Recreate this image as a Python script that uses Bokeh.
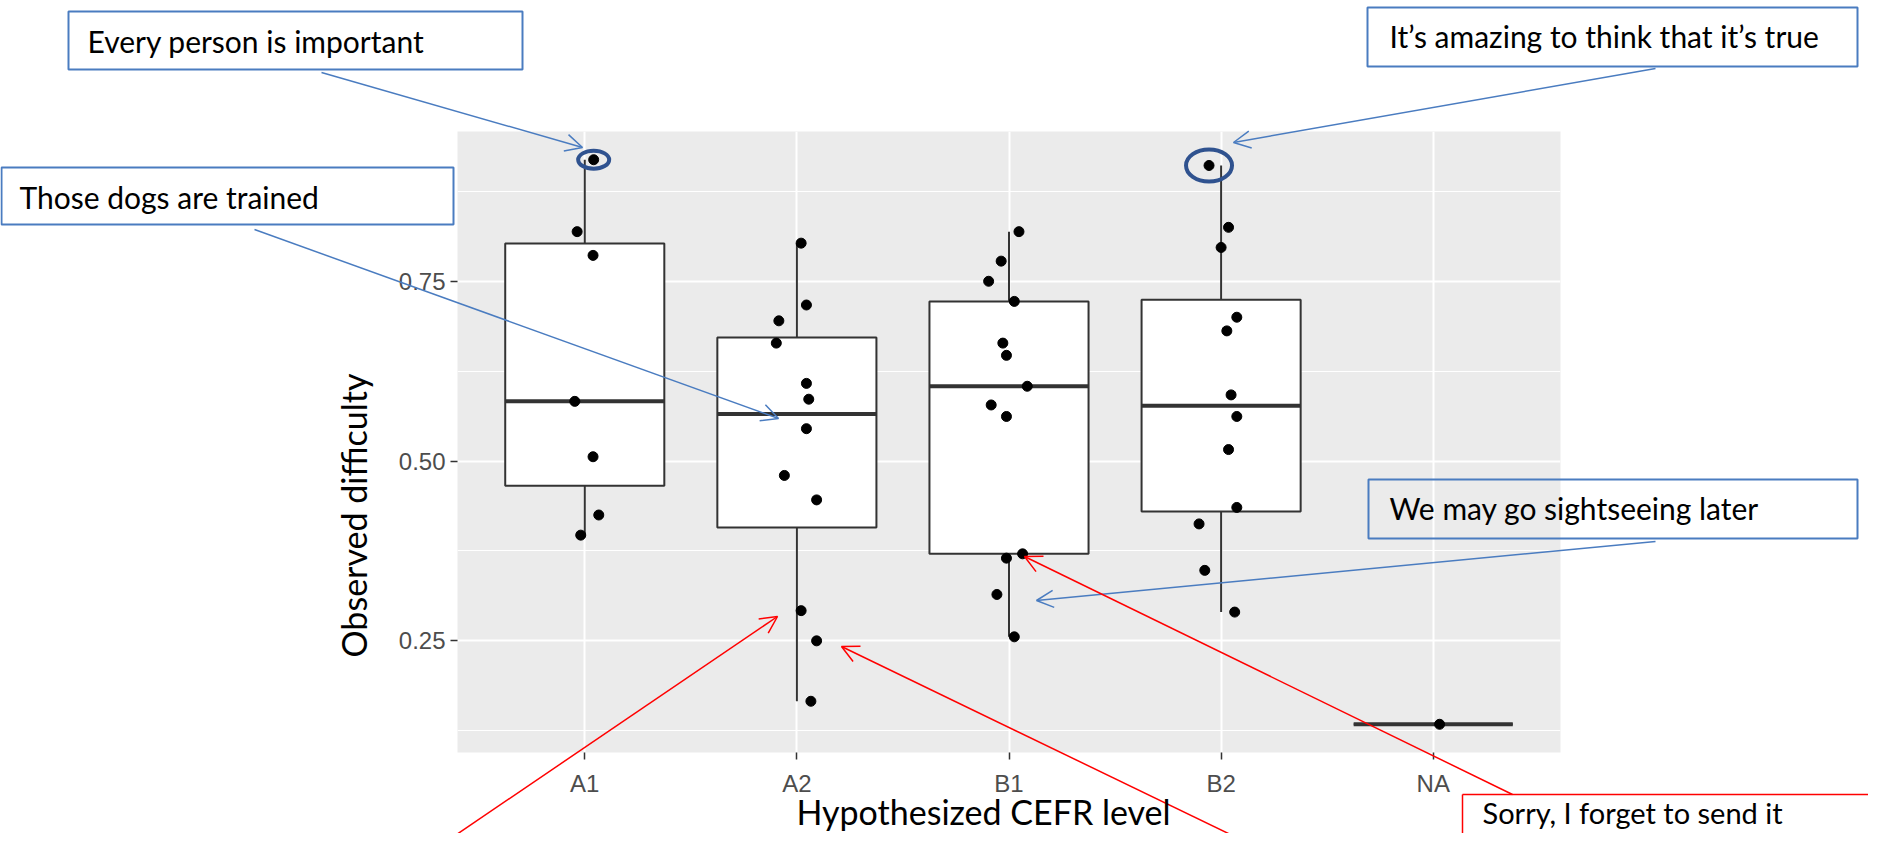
import numpy as np
from bokeh.plotting import figure
from bokeh.models import Range1d, FixedTicker, Label, Arrow, OpenHead, BoxAnnotation, GridBox
from bokeh.embed import file_html
from bokeh.resources import INLINE

# ---------------- data ----------------
categories = ["A1", "A2", "B1", "B2", "NA"]

a1_values = [0.919, 0.819, 0.786, 0.583, 0.506, 0.425, 0.397]
a1_jitter = [0.042, -0.036, 0.039, -0.047, 0.039, 0.066, -0.019]

a2_values = [0.803, 0.717, 0.695, 0.664, 0.608, 0.586, 0.545, 0.480, 0.446, 0.292, 0.250, 0.166]
a2_jitter = [0.020, 0.045, -0.085, -0.097, 0.045, 0.056, 0.045, -0.059, 0.093, 0.020, 0.093, 0.066]

b1_values = [0.819, 0.778, 0.750, 0.722, 0.664, 0.647, 0.604, 0.578, 0.562, 0.371, 0.365, 0.3145, 0.2556]
b1_jitter = [0.047, -0.037, -0.096, 0.025, -0.029, -0.012, 0.086, -0.084, -0.012, 0.064, -0.012, -0.057, 0.025]

b2_values = [0.911, 0.825, 0.797, 0.700, 0.681, 0.592, 0.562, 0.516, 0.4355, 0.4126, 0.348, 0.290]
b2_jitter = [-0.057, 0.035, 0.0, 0.074, 0.027, 0.047, 0.074, 0.035, 0.074, -0.104, -0.077, 0.064]

na_values = [0.134]
na_jitter = [0.03]

y_tick_values = [0.25, 0.50, 0.75]
y_tick_labels = ["0.25", "0.50", "0.75"]
y_minor_values = [0.125, 0.375, 0.625, 0.875]

x_title = "Hypothesized CEFR level"
y_title = "Observed difficulty"

callout_texts = [
    "Every person is important",
    "Those dogs are trained",
    "It\u2019s amazing to think that it\u2019s true",
    "We may go sightseeing later",
    "Sorry, I forget to send it",
]

# ---------------- styles ----------------
BLUE = "#4A7CC0"
DARK_BLUE = "#2F528F"
RED = "#FF0000"
BOX_LINE = "#333333"
CALLOUT_FONT = "Lato"
W, H = 1868, 833
FRAME_L, FRAME_T, FRAME_W, FRAME_H = 457, 131, 1103, 621
TXT_SHIFT = 12  # label anchor correction (px)

groups = [a1_values, a2_values, b1_values, b2_values, na_values]
jitters = [a1_jitter, a2_jitter, b1_jitter, b2_jitter, na_jitter]
xpos = np.arange(1, len(categories) + 1, dtype=float)

all_vals = np.concatenate([np.asarray(g, float) for g in groups])
span = all_vals.max() - all_vals.min()
ylo = all_vals.min() - 0.05 * span
yhi = all_vals.max() + 0.05 * span

# ================= data figure (ggplot-like panel) =================
p = figure(width=W, height=H,
           x_range=Range1d(0.4, len(categories) + 0.6),
           y_range=Range1d(ylo, yhi),
           output_backend="svg", toolbar_location=None,
           min_border_left=FRAME_L, min_border_right=W - FRAME_L - FRAME_W,
           min_border_top=FRAME_T, min_border_bottom=H - FRAME_T - FRAME_H)
p.frame_align = False
p.background_fill_color = "#EBEBEB"
p.border_fill_color = "white"
p.outline_line_color = None

p.xgrid.ticker = FixedTicker(ticks=list(xpos))
p.xgrid.grid_line_color = "white"
p.xgrid.grid_line_width = 2
p.ygrid.ticker = FixedTicker(ticks=y_tick_values, minor_ticks=y_minor_values)
p.ygrid.grid_line_color = "white"
p.ygrid.grid_line_width = 2
p.ygrid.minor_grid_line_color = "white"
p.ygrid.minor_grid_line_width = 1.1

p.xaxis.ticker = FixedTicker(ticks=list(xpos))
p.xaxis.major_label_overrides = {float(x): c for x, c in zip(xpos, categories)}
p.yaxis.ticker = FixedTicker(ticks=y_tick_values)
p.yaxis.major_label_overrides = {v: l for v, l in zip(y_tick_values, y_tick_labels)}
for ax in (p.xaxis[0], p.yaxis[0]):
    ax.axis_line_color = None
    ax.major_tick_line_color = "#333333"
    ax.major_tick_line_width = 1.5
    ax.major_tick_out = 7
    ax.major_tick_in = 0
    ax.minor_tick_line_color = None
    ax.major_label_text_font = "Liberation Sans"
    ax.major_label_text_font_size = "24px"
    ax.major_label_text_color = "#4D4D4D"
p.yaxis.major_label_standoff = 5
p.xaxis.major_label_standoff = 10

q1s, meds, q3s, lows, highs = [], [], [], [], []
for g in groups:
    a = np.asarray(g, float)
    q1, med, q3 = np.quantile(a, [0.25, 0.5, 0.75])
    iqr = q3 - q1
    lows.append(a[a >= q1 - 1.5 * iqr].min())
    highs.append(a[a <= q3 + 1.5 * iqr].max())
    q1s.append(q1); meds.append(med); q3s.append(q3)

half = 0.375
p.segment(x0=xpos, y0=q3s, x1=xpos, y1=highs, line_color=BOX_LINE, line_width=2)
p.segment(x0=xpos, y0=q1s, x1=xpos, y1=lows, line_color=BOX_LINE, line_width=2)
p.quad(left=xpos - half, right=xpos + half, bottom=q1s, top=q3s,
       fill_color="white", line_color=BOX_LINE, line_width=2)
p.segment(x0=xpos - half, y0=meds, x1=xpos + half, y1=meds, line_color=BOX_LINE, line_width=4)

pt_x, pt_y = [], []
for x, g, j in zip(xpos, groups, jitters):
    for v, d in zip(g, j):
        pt_x.append(x + d)
        pt_y.append(v)
p.scatter(x=pt_x, y=pt_y, size=10, color="black")

hl_x, hl_y = [], []
for idx in (0, 3):
    g = np.asarray(groups[idx]); k = int(np.argmax(g))
    hl_x.append(xpos[idx] + jitters[idx][k]); hl_y.append(g[k])
p.ellipse(x=hl_x, y=hl_y, width=[31, 46], height=[18, 32],
          width_units="screen", height_units="screen",
          fill_color=None, line_color=DARK_BLUE, line_width=4)

# ================= overlay figure (slide call-outs, page pixels) =================
ov = figure(width=W, height=H, x_range=Range1d(0, W), y_range=Range1d(H, 0),
            x_axis_type=None, y_axis_type=None, output_backend="svg",
            toolbar_location=None, min_border=0)
ov.frame_align = False
ov.outline_line_color = None
ov.background_fill_alpha = 0
ov.border_fill_alpha = 0
ov.grid.visible = False


def box(l, r, t, b, color):
    ov.add_layout(BoxAnnotation(left=l, right=r, top=t, bottom=b, fill_alpha=0, fill_color=None,
                                line_color=color, line_width=2, line_alpha=1))


def text(x, y, s, size="30px", vertical=False, align="left"):
    if vertical:
        x, ang = x - TXT_SHIFT, np.pi / 2
    else:
        y, ang = y - TXT_SHIFT, 0.0
    ov.add_layout(Label(x=x, y=y, text=s, text_font=CALLOUT_FONT, text_font_size=size,
                        text_color="black", text_baseline="alphabetic", text_align=align,
                        angle=ang))


def arrow(x0, y0, x1, y1, color, head=True):
    ov.add_layout(Arrow(x_start=x0, y_start=y0, x_end=x1, y_end=y1,
                        line_color=color, line_width=1.5,
                        end=OpenHead(size=17, line_color=color, line_width=1.5) if head else None))


box(68, 522, 11, 69, BLUE)
text(87, 52, callout_texts[0])
arrow(321, 72, 582, 147, BLUE)

box(1, 453, 167, 224, BLUE)
text(19, 208, callout_texts[1])
arrow(254, 229, 778, 418, BLUE)

box(1367, 1857, 7, 66, BLUE)
text(1389, 47, callout_texts[2])
arrow(1655, 68, 1233, 142, BLUE)

box(1368, 1857, 479, 538, BLUE)
text(1389, 519, callout_texts[3])
arrow(1655, 541, 1036, 600, BLUE)

arrow(1462, 794, 1890, 794, RED, head=False)
arrow(1462, 794, 1462, 860, RED, head=False)
text(1482, 824, callout_texts[4], size="29px")
arrow(1512, 794, 1024, 556, RED)
arrow(434, 849, 777, 616, RED)
arrow(1261, 849, 841, 646, RED)

text(983, 823, x_title, size="34px", align="center")
text(365, 515, y_title, size="34px", vertical=True, align="center")

layout = GridBox(children=[(p, 0, 0), (ov, 0, 0)])

open("out.html", "w").write(file_html(layout, INLINE, title="CEFR boxplot"))
